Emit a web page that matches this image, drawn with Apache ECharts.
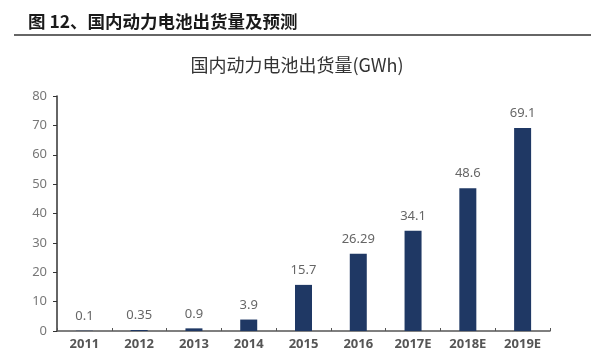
<!DOCTYPE html>
<html><head><meta charset="utf-8">
<script src="https://cdn.jsdelivr.net/npm/echarts@6/dist/echarts.min.js"></script>
<style>html,body{margin:0;padding:0;background:#fff}#c{width:594px;height:359px}</style>
</head><body><div id="c"></div>
<script>
const categories = ['2011','2012','2013','2014','2015','2016','2017E','2018E','2019E'];
const values = [0.1, 0.35, 0.9, 3.9, 15.7, 26.29, 34.1, 48.6, 69.1];
const yTicks = [0, 10, 20, 30, 40, 50, 60, 70, 80];
const headerText = '图 12、国内动力电池出货量及预测';
const chartTitle = '国内动力电池出货量(GWh)';

const chart = echarts.init(document.getElementById('c'));
chart.setOption({
  backgroundColor: '#fff',
  animation: false,
  title: [
    {text: headerText, left: 23, top: 8, textStyle: {fontSize: 17.5, fontWeight: 'bold', color: '#1a1a1a', fontFamily: 'Noto Sans CJK SC'}},
    {text: chartTitle, left: 'center', top: 51, textStyle: {fontSize: 18, fontWeight: 'normal', color: '#333', fontFamily: 'Noto Sans CJK SC'}}
  ],
  graphic: [{type: 'rect', shape: {x: 14, y: 34, width: 577, height: 2}, style: {fill: '#666'}}],
  grid: {left: 57, right: 44, top: 96, bottom: 28},
  xAxis: {
    type: 'category', data: categories,
    axisLine: {lineStyle: {color: '#555', width: 1.5}},
    axisTick: {show: true, inside: true, length: 3, lineStyle: {color: '#555'}},
    axisLabel: {color: '#555', fontSize: 13, fontWeight: 'bold', fontFamily: 'Noto Sans', margin: 7}
  },
  yAxis: {
    type: 'value', min: yTicks[0], max: yTicks[yTicks.length-1], interval: 10,
    axisLine: {show: true, lineStyle: {color: '#333', width: 1.5}},
    axisTick: {show: true, length: 4, lineStyle: {color: '#333'}},
    splitLine: {show: false},
    axisLabel: {color: '#777', fontSize: 13, fontFamily: 'Noto Sans', margin: 10}
  },
  series: [{
    type: 'bar', data: values, barWidth: 17,
    itemStyle: {color: '#1f3864'},
    label: {show: true, position: 'top', color: '#666', fontSize: 13, fontFamily: 'Noto Sans', distance: 8}
  }]
});
</script></body></html>
